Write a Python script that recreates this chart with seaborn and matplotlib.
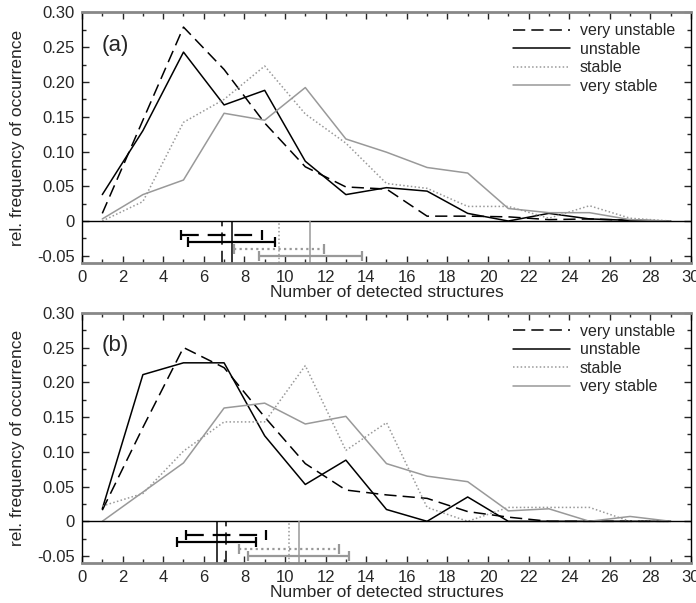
import numpy as np
import pandas as pd
import matplotlib
matplotlib.use("Agg")
import matplotlib.pyplot as plt
import seaborn as sns
from matplotlib.ticker import MultipleLocator, FuncFormatter

sns.set_style("ticks")
plt.rcParams['font.family'] = ['Liberation Sans', 'DejaVu Sans']
plt.rcParams['axes.unicode_minus'] = False

# number of detected structures (bin centres)
n_struct = [1, 3, 5, 7, 9, 11, 13, 15, 17, 19, 21, 23, 25, 27, 29]
classes = ["very unstable", "unstable", "stable", "very stable"]

# panel (a)
a_very_unstable = [0.011, 0.145, 0.279, 0.218, 0.141, 0.078, 0.049, 0.046, 0.007, 0.007, 0.006, 0.002, 0.003, 0.001, 0.0]
a_unstable = [0.038, 0.130, 0.243, 0.167, 0.188, 0.086, 0.038, 0.048, 0.043, 0.011, 0.0, 0.011, 0.003, 0.001, 0.0]
a_stable = [0.0, 0.028, 0.142, 0.175, 0.223, 0.154, 0.112, 0.054, 0.047, 0.021, 0.021, 0.004, 0.022, 0.004, 0.0]
a_very_stable = [0.003, 0.038, 0.059, 0.155, 0.145, 0.192, 0.118, 0.099, 0.077, 0.069, 0.018, 0.012, 0.012, 0.002, 0.0]
a_mean = [6.88, 7.37, 9.69, 11.25]
a_sd = [2.00, 2.13, 2.21, 2.52]

# panel (b)
b_very_unstable = [0.016, 0.135, 0.250, 0.221, 0.150, 0.083, 0.045, 0.038, 0.033, 0.014, 0.006, 0.0, 0.0, 0.0, 0.0]
b_unstable = [0.018, 0.211, 0.228, 0.228, 0.123, 0.053, 0.088, 0.017, 0.0, 0.035, 0.0, 0.0, 0.0, 0.0, 0.0]
b_stable = [0.022, 0.040, 0.101, 0.143, 0.143, 0.224, 0.102, 0.142, 0.020, 0.0, 0.020, 0.020, 0.020, 0.0, 0.0]
b_very_stable = [0.0, 0.042, 0.084, 0.163, 0.170, 0.140, 0.151, 0.083, 0.065, 0.057, 0.015, 0.018, 0.0, 0.007, 0.0]
b_mean = [7.08, 6.63, 10.18, 10.67]
b_sd = [1.97, 1.96, 2.47, 2.48]

# styles
colors = ["black", "black", "#999999", "#999999"]
dashes = [(8, 4), "", (1, 1.5), ""]
bar_y = [-0.02, -0.03, -0.04, -0.05]

fig = plt.figure(figsize=(6.96, 6.03), dpi=100)
ax_a = fig.add_axes([0.1178, 0.5643, 0.875, 0.4150])
ax_b = fig.add_axes([0.1178, 0.0663, 0.875, 0.4150])


def draw_panel(ax, series, means, sds, tag):
    for name, vals, c, d in zip(classes, series, colors, dashes):
        df = pd.DataFrame({"n": n_struct, "f": vals})
        ln = sns.lineplot(data=df, x="n", y="f", ax=ax, color=c, lw=1.1, label=name)
        line = ln.get_lines()[-1]
        if d:
            line.set_dashes(d)
    ax.axhline(0, color="black", lw=1.0)
    for m, s, yb, c, d in zip(means, sds, bar_y, colors, dashes):
        vl = ax.vlines(m, -0.06, 0, color=c, lw=1.1)
        eb = ax.errorbar(m, yb, xerr=s, fmt="none", ecolor=c, elinewidth=1.6,
                         capsize=3.5, capthick=1.6)
        if d:
            vl.set_linestyle((0, d))
            eb[2][0].set_linestyle((0, d))

    ax.set_xlim(0, 30)
    ax.set_ylim(-0.06, 0.30)
    ax.xaxis.set_major_locator(MultipleLocator(2))
    ax.xaxis.set_minor_locator(MultipleLocator(1))
    ax.yaxis.set_major_locator(MultipleLocator(0.05))
    ax.yaxis.set_minor_locator(MultipleLocator(0.025))
    ax.yaxis.set_major_formatter(FuncFormatter(lambda v, p: "0" if abs(v) < 1e-9 else f"{v:.2f}"))
    ax.tick_params(which="both", direction="in", top=True, right=True, labelsize=12, pad=5)
    ax.tick_params(which="major", length=5, width=1)
    ax.tick_params(which="minor", length=3, width=1)
    ax.set_xlabel("Number of detected structures", fontsize=12.5, labelpad=0)
    ax.set_ylabel("rel. frequency of occurrence", fontsize=12.5, labelpad=9)
    for side in ["top", "bottom"]:
        ax.spines[side].set_color("#888888")
        ax.spines[side].set_linewidth(2)
    for side in ["left", "right"]:
        ax.spines[side].set_color("black")
        ax.spines[side].set_linewidth(1)
    ax.text(0.032, 0.87, tag, transform=ax.transAxes, fontsize=16, va="center", ha="left")
    ax.legend(loc="upper right", bbox_to_anchor=(0.99, 0.995), frameon=False, fontsize=11.5,
              handlelength=3.6, labelspacing=0.22, borderaxespad=0.2, handletextpad=0.6)


draw_panel(ax_a, [a_very_unstable, a_unstable, a_stable, a_very_stable], a_mean, a_sd, "(a)")
draw_panel(ax_b, [b_very_unstable, b_unstable, b_stable, b_very_stable], b_mean, b_sd, "(b)")

fig.savefig("out.png", dpi=100)
